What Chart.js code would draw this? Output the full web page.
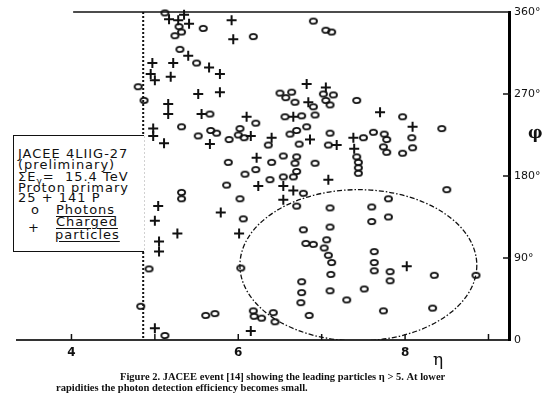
<!DOCTYPE html>
<html>
<head>
<meta charset="utf-8">
<script src="https://cdn.jsdelivr.net/npm/chart.js@4.4.0/dist/chart.umd.min.js"></script>
<style>
  body { margin: 0; background: #fff; }
  #wrap { position: relative; width: 545px; height: 394px; overflow: hidden; }
  #wrap canvas { position: absolute; left: 0; top: 0; }
  .t { position: absolute; white-space: nowrap; color: #111; }
  .box { position: absolute; left: 13px; top: 135px; width: 130px; height: 115px;
         border: 1.5px solid #111; border-right: none; background: #fff; }
  .lg { font-family: "DejaVu Sans"; font-size: 13px; line-height: 14px; letter-spacing: 1px; }
  .u { text-decoration: underline; text-underline-offset: 2px; }
  .cap { font-family: "Liberation Serif"; font-weight: bold; font-size: 10.5px; line-height: 11px; }
</style>
</head>
<body>
<div id="wrap">
  <canvas id="chart" width="545" height="394"></canvas>

  <div class="box"></div>
  <div class="t lg" style="left:18px; top:147px;">JACEE 4LIIG-27</div>
  <div class="t lg" style="left:18px; top:158px;">(preliminary)</div>
  <div class="t lg" style="left:18px; top:170px;">ΣE<span style="font-size:9px; position:relative; top:3px;">γ</span>= &nbsp;15.4 TeV</div>
  <div class="t lg" style="left:18px; top:181px;">Proton primary</div>
  <div class="t lg" style="left:18px; top:191px;">25 + 141 P</div>
  <div class="t lg" style="left:31px; top:203px;">o</div>
  <div class="t lg u" style="left:56px; top:203px;">Photons</div>
  <div class="t lg" style="left:28px; top:221px;">+</div>
  <div class="t lg u" style="left:56px; top:215px;">Charged</div>
  <div class="t lg u" style="left:55px; top:228px;">particles</div>

  <div class="t" style="left:433px; top:349px; font-family:'DejaVu Serif'; font-size:17px;">η</div>
  <div class="t" style="left:528px; top:123px; font-family:'DejaVu Serif'; font-weight:bold; font-size:16px;">φ</div>

  <div class="t cap" style="left:120px; top:371px;">Figure 2. JACEE event [14] showing the leading particles η &gt; 5. At lower</div>
  <div class="t cap" style="left:56px; top:382px;">rapidities the photon detection efficiency becomes small.</div>
</div>

<script>
// pseudorapidity / azimuth of the photons (o)
const photonEta = [5.12, 5.29, 5.58, 5.32, 5.24, 6.18, 5.30, 5.50, 4.80, 4.87, 5.66, 6.90, 7.05, 7.12,
  6.50, 6.64, 6.57, 6.68, 6.90, 7.02, 7.14, 7.05, 7.10, 7.42, 6.56, 6.76, 6.92, 6.21, 7.97, 8.44,
  7.62, 7.75, 7.78, 8.08, 7.74, 7.78, 7.97, 8.09, 7.50, 7.42, 7.44, 7.44, 7.44, 7.08, 7.10, 6.73,
  6.62, 6.70, 6.82, 6.36, 6.40, 6.54, 6.70, 6.68, 6.92, 6.21, 6.08, 6.38, 6.54, 6.66, 6.70, 6.78,
  6.70, 7.10, 8.50, 7.80, 7.60, 7.60, 7.80, 5.32, 5.52, 5.67, 5.74, 5.89, 6.02, 6.00, 6.07, 5.88,
  5.86, 5.32, 5.32, 6.02, 6.06, 4.93, 6.03, 4.83, 5.61, 5.72, 5.12, 6.18, 6.19, 6.28, 6.42, 6.44,
  6.78, 7.10, 6.81, 6.90, 7.06, 7.03, 7.08, 7.12, 7.11, 6.76, 6.76, 6.75, 7.10, 7.30, 7.51, 6.85,
  7.63, 7.63, 7.63, 7.82, 7.82, 8.35, 8.85, 7.74, 8.33];
const photonPhi = [359, 344, 342, 338, 334, 333, 319, 304, 278, 263, 248, 350, 340, 338,
  271, 272, 266, 261, 256, 270, 269, 263, 258, 263, 245, 246, 247, 238, 245, 232,
  228, 226, 220, 222, 212, 206, 205, 211, 222, 201, 195, 189, 183, 214, 227, 215,
  226, 230, 234, 214, 195, 202, 201, 194, 194, 187, 182, 176, 179, 179, 185, 161,
  147, 145, 165, 155, 146, 130, 135, 234, 224, 230, 227, 220, 232, 225, 222, 195,
  170, 162, 155, 155, 133, 78, 79, 37, 27, 29, 5, 32, 26, 24, 30, 20,
  121, 124, 106, 105, 110, 101, 93, 85, 72, 64, 52, 41, 54, 44, 56, 27,
  97, 85, 76, 75, 65, 71, 71, 32, 35];

// charged particles (+)
const chargedEta = [5.35, 5.17, 5.28, 5.41, 5.92, 5.94, 5.40, 4.97, 5.22, 5.65, 5.78, 4.95, 5.00,
  5.19, 5.52, 5.78, 5.16, 5.16, 5.56, 6.10, 6.82, 7.05, 6.84, 6.66, 7.70, 8.09, 7.38, 7.39,
  7.18, 6.86, 6.40, 6.15, 4.98, 4.98, 5.11, 5.66, 6.22, 7.08, 6.24, 6.54, 6.66, 6.54, 5.04,
  5.79, 5.00, 5.27, 6.01, 5.05, 5.05, 5.00, 6.15, 8.02];
const chargedPhi = [357, 352, 351, 347, 351, 330, 312, 304, 304, 299, 292, 292, 285,
  289, 270, 272, 259, 248, 248, 245, 281, 277, 261, 245, 250, 234, 222, 210,
  214, 220, 222, 224, 232, 224, 216, 215, 200, 176, 169, 169, 164, 154, 147,
  140, 131, 117, 117, 108, 97, 13, 10, 81];

const etaTicks = [4, 5, 6, 7, 8, 9];
const etaLabels = ['4', '', '6', '', '8', ''];
const phiTicks = [0, 90, 180, 270, 360];
const phiLabels = ['0', '90°', '180°', '270°', '360°'];

const cutEta = 4.86;                                       // dotted line
const ring = { eta: 7.44, phi: 82, dEta: 1.42, dPhi: 83 }; // dash-dot ellipse

const toPoints = (xs, ys) => xs.map((v, i) => ({ x: v, y: ys[i] }));

// hand drawn looking "o"
const oMark = document.createElement('canvas');
oMark.width = 11; oMark.height = 9;
const g = oMark.getContext('2d');
g.strokeStyle = '#111'; g.lineWidth = 1.8;
g.beginPath(); g.ellipse(5.5, 4.5, 3.6, 2.7, 0, 0, Math.PI * 2); g.stroke();

const paperMarks = {
  id: 'paperMarks',
  beforeDatasetsDraw(chart) {
    const { ctx, chartArea: a, scales: { x, y } } = chart;
    ctx.save();
    ctx.strokeStyle = '#111';

    const xc = x.getPixelForValue(cutEta);
    ctx.lineWidth = 2; ctx.setLineDash([2, 2]);
    ctx.beginPath(); ctx.moveTo(xc, a.top); ctx.lineTo(xc, a.bottom); ctx.stroke();

    const cx = x.getPixelForValue(ring.eta), cy = y.getPixelForValue(ring.phi);
    const rx = x.getPixelForValue(ring.eta + ring.dEta) - cx;
    const ry = cy - y.getPixelForValue(ring.phi + ring.dPhi);
    ctx.beginPath(); ctx.rect(a.left, a.top, a.right - a.left, a.bottom - a.top); ctx.clip();
    ctx.lineWidth = 1.3; ctx.setLineDash([5, 2, 1.5, 2]);
    ctx.beginPath(); ctx.ellipse(cx, cy, rx, ry, 0, 0, Math.PI * 2); ctx.stroke();
    ctx.restore();
  },
  afterDraw(chart) {
    const { ctx, chartArea: a, scales: { x, y } } = chart;
    ctx.save();
    ctx.strokeStyle = '#111';
    ctx.lineWidth = 1.5;
    // top frame
    ctx.beginPath(); ctx.moveTo(x.getPixelForValue(4.02), a.top); ctx.lineTo(a.right, a.top); ctx.stroke();
    // inward ticks
    etaTicks.forEach(v => {
      const px = x.getPixelForValue(v);
      ctx.beginPath(); ctx.moveTo(px, a.bottom); ctx.lineTo(px, a.bottom - 6); ctx.stroke();
    });
    phiTicks.slice(1, 4).forEach(v => {
      const py = y.getPixelForValue(v);
      ctx.beginPath(); ctx.moveTo(a.right - 6, py); ctx.lineTo(a.right + 2, py); ctx.stroke();
    });
    ctx.restore();
  }
};

new Chart(document.getElementById('chart'), {
  type: 'scatter',
  data: {
    datasets: [
      {
        label: 'Photons',
        data: toPoints(photonEta, photonPhi),
        pointStyle: oMark,
        clip: false
      },
      {
        label: 'Charged particles',
        data: toPoints(chargedEta, chargedPhi),
        pointStyle: 'cross',
        pointRadius: 5,
        borderColor: '#111',
        borderWidth: 2,
        clip: false
      }
    ]
  },
  options: {
    responsive: false,
    animation: false,
    layout: { padding: { left: 17, top: 12, right: 0, bottom: 0 } },
    plugins: { legend: { display: false }, tooltip: { enabled: false } },
    scales: {
      x: {
        type: 'linear',
        min: 3.347,
        max: 9.246,
        afterFit(s) { s.height = 54; },
        grid: { display: false, drawTicks: false },
        border: { display: true, color: '#333', width: 2 },
        ticks: {
          stepSize: 1,
          includeBounds: false,
          autoSkip: false,
          maxRotation: 0,
          padding: 6,
          color: '#111',
          font: { family: 'DejaVu Sans', weight: 'bold', size: 12 },
          callback: v => etaLabels[etaTicks.indexOf(v)] ?? ''
        }
      },
      y: {
        type: 'linear',
        position: 'right',
        min: 0,
        max: 360,
        afterFit(s) { s.width = 36; },
        grid: { display: false, drawTicks: false },
        border: { display: true, color: '#000', width: 3 },
        ticks: {
          stepSize: 90,
          padding: 5,
          color: '#111',
          font: { family: 'DejaVu Sans', size: 11 },
          callback: v => phiLabels[phiTicks.indexOf(v)] ?? ''
        }
      }
    }
  },
  plugins: [paperMarks]
});
</script>
</body>
</html>
